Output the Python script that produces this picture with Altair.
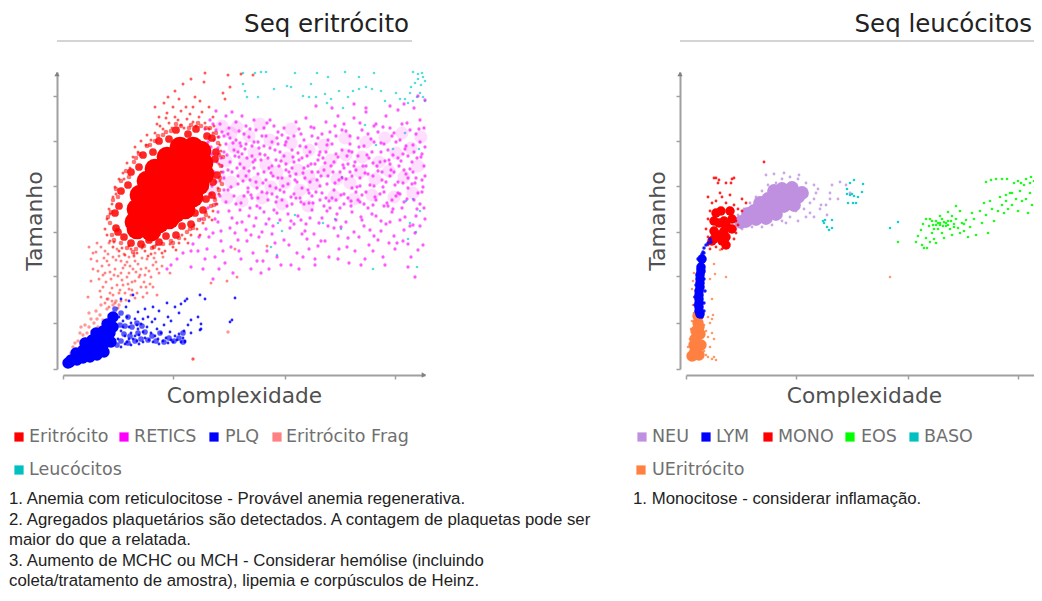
import altair as alt
import pandas as pd

# ---------- values (x = complexity, y = size, in axis units) ----------
RED_CORE = [(117,222),(130,222),(138,218),(104,212),(116,212),(130,210),(140,206),(92,200),(104,198),(116,198),(130,198),(141,195),
 (84,188),(96,186),(108,186),(122,184),(136,184),(77,174),(88,172),(102,172),(116,170),(130,172),(74,160),(84,158),(98,158),(112,156),(122,160),
 (72,147),(84,146),(96,146),(106,150),(74,140),(88,138)]
RED_HAZE = [(61,132),(68,126),(78,125),(86,129),(96,127),(103,133),(113,134),(119,143),(128,145),(132,156),(140,159),(143,170),(149,174),(150,187),(154,194),(152,210),(153,217),(149,231),
 (144,233),(133,240),(125,235),(113,239),(106,230),(96,228),(90,217),(80,214),(76,202),(68,197),(65,184),(58,178),(56,163),(52,156),(53,141),(55,137)]
RED_SOFT = [(58,126),(64,121),(73,120),(81,123),(91,122),(100,125),(108,128),(116,131),(124,137),(130,141),(136,149),(143,154),(148,163),(152,169),(156,179),(157,191),(158,203),(156,214),(155,226),(153,236),(147,241),(138,243),(128,244),(118,243),(108,238),(100,234),(92,228),(84,223),(76,215),(71,207),(63,198),(58,188),(53,180),(50,169),(48,157),(47,146),(49,134),
 (143,241),(135,246),(126,241),(113,245),(103,237),(95,233),(87,224),(73,211),(66,192),(55,172),(45,152),(51,129),(70,117),(89,121),(110,126),(127,140),(141,150),(151,164),(159,185),(160,212)]
RED_FRINGE = [(100,240),(106,246),(112,252),(118,244),(124,250),(130,247),(136,252),(142,246),(146,240),(150,236),(155,232),(92,236),(84,234),(78,228),(72,222),
 (70,212),(64,206),(60,196),(56,190),(52,182),(50,172),(46,160),(44,150),(42,140),(47,128),(50,122),(56,118),(62,114),(68,120),(74,116),(82,118),(88,115),(96,120),
 (102,118),(110,122),(116,126),(122,130),(128,134),(134,140),(140,146),(146,152),(150,158),(154,165),(156,175),(157,188),(156,205),(158,218),(101,266),(105,272),(110,262),
 (112,278),(116,270),(120,285),(123,262),(128,290),(132,272),(137,268),(141,287),(96,252),(92,262),(104,256),(118,258),(130,262),(146,262),(160,276),(162,270),(165,294),(142,296),
 (178,295),(190,294),(167,282),(150,252),(97,243),(88,229),(83,224),(75,217),(67,201),(61,190),(53,175),(49,165),(47,155),(44,134),(51,127),(59,121),(66,123),(71,113),(79,121),(85,113),(93,124),(99,116),
 (107,125),(113,119),(119,134),(125,126),(131,144),(137,134),(143,157),(149,149),(152,171),(121,241),(127,255),(133,243),(139,257),(109,241),(115,249),(94,245),(103,251),(151,243),(157,224),(158,197),(155,181)]
RED_TAIL = [(38,122),(42,118),(46,126),(50,112),(54,120),(58,108),(62,104),(66,112),(72,108),(78,100),(84,110),(90,104),(96,96),(100,112),(92,116),(70,100),(64,92),(58,96),(52,100),(46,104),(42,96),
 (48,90),(54,84),(60,84),(66,80),(72,88),(78,82),(84,76),(90,82),(94,74),(88,92),(82,94),(76,92),(68,74),(62,76),(56,76),(50,74),(44,70),(38,72),(40,82),(36,90),(34,108),(30,116),(26,122),
 (34,126),(66,96),(74,76),(80,72),(52,66),(46,62),(42,66),(30,100),(28,88),(25,72),(58,68),(107,96),(94,100),(148,86),(164,88),(174,92),(130,10),(172,120),(204,123),
 (41,111),(47,97),(53,109),(59,89),(61,115),(67,103),(69,87),(73,97),(79,111),(83,101),(87,85),(93,107),(99,103),(55,93),(49,81),(43,87),(39,103),(45,115),(57,79),(63,69),(69,79),(75,105),(81,87),(35,98),(37,78),
 (33,117),(44,108),(56,113),(64,107),(71,115),(77,94),(86,98),(91,111),(60,101),(51,94),(47,76),(65,85),(72,71),(83,82),(40,94),(49,68),(55,61),(28,110)]
RETICS_HAZE = [(152,214),(163,208),(171,222),(182,206),(191,216),(203,204),(214,197),(224,211),(235,199),(246,193),(156,192),(168,187),(181,194),(193,187),(208,182),(222,186),(237,179),(251,185),(262,198),(274,190),(287,186),
 (297,197),(312,190),(326,198),(341,192),(355,203),(268,209),(283,214),(299,212),(316,207),(333,216),(348,221),(358,232),(339,236),(322,231),(303,227),(282,231),(261,224),(246,219),(228,226),(207,229),(186,233),(168,236),(159,243),
 (271,173),(291,170),(309,174),(331,172),(350,176),(164,171),(179,168),(199,171),(219,165),(245,163),(150,176),(174,242),(197,245),(228,240)]
RETICS = [(142,240),(147,249),(153,258),(157,245),(163,253),(166,241),(169,257),(173,247),(176,238),(179,253),(183,243),(186,232),(191,249),(193,239),(199,233),(201,241),(207,249),(209,227),(215,237),(221,241),(225,231),(233,247),(238,235),(243,251),(251,241),
 (255,231),(263,247),(267,237),(275,253),(279,239),(287,233),(291,251),(299,239),(303,257),(311,243),(315,237),(323,253),(327,241),(335,259),(339,245),(347,239),(351,261),(357,249),(361,241),(253,263),(269,261),(291,265),(303,261),(327,263),(341,265),(362,269),(355,273),
 (151,229),(155,221),(161,233),(163,225),(171,219),(173,229),(179,215),(183,225),(189,213),(191,227),(197,215),(201,223),(205,211),(207,221),(213,209),(215,225),(221,213),(223,205),(229,219),(231,207),(237,223),(239,211),(245,203),(247,217),(253,225),(255,209),(261,199),(263,217),(269,225),(271,207),(277,197),(279,219),(285,205),(287,225),(293,199),(295,213),(301,223),(303,203),(309,217),(311,227),(317,207),(319,197),(325,219),(327,205),(333,227),(335,211),(341,199),(343,223),(349,207),(351,217),(357,227),(361,203),
 (146,205),(151,197),(153,187),(159,203),(161,191),(167,207),(169,197),(175,185),(177,205),(183,193),(185,181),(191,201),(193,187),(199,177),(201,197),(207,183),(209,203),(215,191),(217,179),(223,199),(225,185),(231,175),(233,195),(239,181),(241,201),(247,187),(249,173),(255,197),(257,183),(263,171),(265,193),(271,179),(273,169),(279,191),(281,175),(287,197),(289,181),(295,169),(297,191),(303,177),(305,195),(311,183),(313,169),(319,189),(321,177),(327,193),(329,169),(335,187),(337,175),(343,195),(345,181),(351,169),(353,191),(359,177),(362,193),
 (140,170),(145,161),(148,175),(153,165),(155,157),(161,179),(163,167),(169,151),(171,173),(177,159),(179,147),(185,177),(187,161),(193,151),(195,171),(201,157),(203,145),(209,175),(211,159),(217,149),(219,169),(225,155),(227,141),(233,171),(235,153),(241,165),(243,145),(249,159),(251,135),(257,169),(259,151),(265,143),(267,161),(273,149),(275,133),(281,165),(283,147),(289,157),(291,137),(297,167),(299,149),(305,161),(307,139),(313,153),(315,129),(321,163),(323,145),(329,157),(331,133),(337,149),(339,161),(345,125),(347,143),(353,153),(355,119),(361,161),
 (130,125),(136,132),(138,150),(144,120),(150,136),(152,112),(158,128),(162,106),(168,122),(172,136),(178,110),(184,128),(190,116),(196,132),(204,118),(212,126),(218,104),(226,124),(234,116),(244,130),(252,110),(262,128),(276,120),(292,118),(306,124),(320,112),(332,120),(340,128),(352,136),(360,124),(114,110),(120,116),(108,104),(104,100),(128,102),(140,100),(150,90),(170,96),(188,100),(206,100),(236,100),(252,104),(286,106),(298,104),(322,104),(345,102),(352,92),(198,96),
 (158,211),(161,217),(165,199),(172,213),(175,193),(178,223),(181,201),(184,211),(187,189),(190,207),(195,195),(198,209),(203,189),(206,201),(210,193),(213,181),(216,203),(219,191),(227,193),(229,201),(234,187),(236,209),(242,191),(244,213),(249,197),(252,205),(258,193),(260,211),(264,185),(268,203),(273,215),(276,189),(281,201),(284,213),(289,193),(292,207),(297,183),(300,203),(306,211),(310,193),(314,203),(318,217),(323,187),(326,209),(331,197),(336,203),(340,215),(345,191),(350,197),(354,211),(359,189),
 (149,183),(157,173),(165,179),(173,165),(181,173),(189,171),(197,161),(205,169),(213,167),(221,177),(229,165),(237,171),(245,179),(253,177),(261,163),(269,171),(277,161),(285,171),(293,177),(301,165),(309,155),(317,175),(325,163),(333,173),(341,167),(349,185),(357,165),
 (145,227),(149,215),(153,239),(159,237),(167,231),(175,217),(181,235),(189,223),(195,227),(203,233),(211,243),(217,217),(223,227),(231,233),(241,229),(249,233),(257,217),(265,229),(273,233),(281,245),(289,217),(295,231),(305,235),(313,245),(321,225),(329,233),(337,229),(345,213),(353,235),(359,215),
 (143,140),(155,147),(167,141),(175,129),(183,139),(191,143),(199,137),(209,135),(221,129),(231,145),(239,135),(247,151),(255,123),(271,141),(285,131),(301,143),(311,133),(327,147),(341,139),(357,143),(135,118),(160,118),(200,108),(240,112),(275,110),(310,118)]
RETICS_MORE = [(148,222),(154,207),(156,232),(160,197),(164,214),(168,182),(170,226),(174,201),(176,212),(180,188),(182,220),(186,198),(188,174),(192,209),(194,181),(196,221),(200,186),(202,214),(204,176),(208,196),(212,219),(214,172),(218,208),(220,183),(222,224),(226,197),(228,172),(230,212),(232,189),(235,216),(238,167),(240,196),(243,222),(246,176),(248,205),(250,166),(254,189),(256,214),(259,176),(262,206),(264,224),(266,168),(270,197),(272,186),(275,212),(278,174),(280,204),(283,190),(286,218),(288,168),(291,203),(294,182),(296,222),(299,174),(302,196),(304,214),(307,184),(310,206),(312,172),(315,198),(318,226),(320,182),(322,208),(324,166),(328,199),(330,214),(332,184),(335,176),(338,208),(340,186),(342,220),(344,170),(347,200),(350,224),(352,186),(355,176),(358,212),(360,182),(362,222),
 (150,245),(165,235),(177,226),(187,240),(204,246),(214,231),(219,234),(236,240),(248,242),(259,235),(272,243),(283,238),(297,246),(308,230),(320,242),(331,236),(344,246),(356,240),(152,150),(166,158),(178,166),(186,153),(194,163),(206,150),(214,156),(224,163),(238,149),(246,166),(256,146),(264,158),(274,155),(288,163),(298,152),(310,164),(318,148),(330,160),(342,152),(354,160),(146,132),(158,138),(174,146),(188,134),(210,143),(228,148),(242,138),(258,128),(278,142),(296,132),(318,138),(334,126),(350,144),(362,150),
 (128,118),(142,110),(156,100),(176,118),(194,108),(214,112),(228,104),(246,120),(266,112),(284,122),(302,110),(326,126),(348,112)]
CYAN = [(180,296),(192,296),(198,297),(203,297),(232,296),(254,296),(265,292),(282,297),(296,292),(311,296),(350,297),(355,295),(359,296),(180,285),(182,278),(184,272),(195,272),(211,280),(224,283),(228,282),(248,285),(240,273),(246,272),(253,272),(262,275),(264,266),(268,270),(276,278),(285,272),(290,278),(296,280),(303,282),(309,280),(318,278),(322,268),(333,276),(342,270),(348,282),(337,270),
 (345,266),(350,268),(354,272),(357,276),(360,272),(362,268),(358,284),(362,288),(355,290),(360,292),(352,286),(347,276),(280,261),(302,244),(313,224),(330,220),(342,236),(356,220),(350,170),(343,168),(357,158),(347,146),(353,137),(345,130),(272,150),(219,138),(208,122),(214,114),(215,146),(260,146),(232,154),(279,192),(278,140),(310,100),(354,102)]
PINK = [(6,10),(8,16),(10,22),(13,18),(15,28),(18,25),(20,34),(24,36),(26,42),(29,38),(31,46),(34,50),(37,54),(40,49),(44,60),(46,54),(50,64),(53,68),(56,64),(23,30),(12,26),(35,42),(4,8),(17,36),(22,44),(28,50),(33,58),(18,42),(26,56),(38,64),(45,70),(130,10),(165,37),(90,122)]
PLQ_CORE = [(8,9),(14,9),(20,11),(27,12),(34,14),(41,17),(13,16),(20,19),(27,20),(34,22),(41,25),(22,26),(29,29),(36,30),(43,31),(33,36),(40,38),(47,36),(44,45),(50,42),(50,52),(7,7),(5,6),(48,27)]
PLQ_MID = [(54,24),(58,28),(61,35),(65,26),(67,33),(62,43),(57,44),(69,42),(72,28),(75,36),(78,30),(82,37),(85,29),(74,46),(58,56),(65,52),(89,33),(93,28),(97,36),(101,27),(106,31),(111,28),(116,31),(120,27),(120,36),(79,43),(52,60)]
PLQ = [(50,24),(55,30),(58,38),(60,48),(62,33),(64,27),(66,42),(68,36),(70,30),(72,50),(74,28),(75,40),(76,34),(78,45),(80,27),(80,37),(82,31),(84,42),(85,52),(86,29),(88,36),(89,47),(90,27),(92,33),(94,40),(95,30),(96,25),(98,36),(100,28),(101,44),(103,31),(105,26),(107,37),(108,29),(110,27),(112,33),(114,29),(116,35),(118,27),(120,31),(121,38),(122,28),
 (58,22),(62,25),(66,30),(68,24),(72,33),(76,25),(60,42),(64,52),(56,52),(52,50),(68,46),(74,44),(80,50),(82,60),(90,62),(104,66),(112,62),(118,65),(122,68),(124,70),(116,56),(128,49),(135,52),(138,45),(138,40),(125,44),(105,52),(96,58),(66,68),(58,70),(70,74),(63,62),(75,57),(137,74),(142,70),(172,71),(167,47),(169,49),(122,27),(137,39),(128,36),(108,48),(92,50)]

NEU_CORE = [(60,148),(70,150),(80,151),(90,155),(68,158),(78,160),(88,162),(98,163),(82,170),(92,172),(102,172),(112,172),(96,180),(106,181),(116,176),(88,178),(74,166),(108,164),(55,147),(62,155)]
NEU = [(50,140),(48,148),(56,140),(66,142),(76,142),(86,144),(96,148),(104,152),(110,158),(118,160),(124,166),(128,170),(130,176),(128,184),(120,186),(112,190),(104,192),(96,190),(90,186),(82,184),(76,178),(70,172),(64,166),(58,160),(52,154),(46,156),(80,194),(88,195),(98,196),(113,194),(132,180),(135,164),(134,160),(140,164),(144,176),(146,184),(154,187),(160,184),(152,170),(144,170),(164,176),(141,154),(128,152),(124,156),(120,152),(112,148),(100,146)]
MONO_CORE = [(26,128),(36,128),(28,138),(38,138),(46,140),(28,148),(38,148),(46,150),(35,158),(44,158),(33,134),(40,124),(33,146),(40,132),(40,144),(30,156),(28,130)]
MONO = [(22,124),(24,120),(30,122),(36,120),(42,122),(48,130),(50,136),(52,144),(22,132),(20,140),(22,150),(24,158),(26,166),(22,172),(30,168),(36,172),(40,166),(48,164),(52,160),(56,158),(60,166),(56,170),(34,176),(44,174),(30,191),(33,189),(28,191),(32,186),(46,190),(48,191),(45,186),(40,186),(78,207),(50,148),(42,130),(30,130)]
LYM_CORE = [(14,55),(13,62),(13,70),(13,78),(14,86),(14,94),(15,102),(16,110),(13,58),(13,66),(13,74),(14,82),(14,90),(15,98)]
LYM = [(17,117),(18,121),(16,115),(22,126),(24,130),(20,124),(25,127),(18,116),(12,100),(10,84),(9,72),(18,90),(19,78),(18,66),(17,100),(12,110),(9,64),(18,58),(16,52)]
UERI_CORE = [(8,14),(9,18),(8,24),(9,30),(10,38),(12,46),(12,53),(14,35),(15,24),(6,13),(13,14),(13,42)]
UERI = [(3,12),(2,22),(4,30),(5,40),(6,48),(8,56),(7,64),(8,72),(6,80),(7,88),(8,96),(18,18),(20,14),(22,12),(26,10),(30,9),(24,22),(18,26),(22,32),(20,38),(26,36),(18,44),(24,46),(22,52),(28,30),(17,56),(27,54),(28,12),(26,50),(34,119),(28,105),(29,95),(40,92),(204,92),(26,70),(24,90)]
EOS = [(230,127),(232,133),(236,124),(238,121),(241,121),(240,131),(244,127),(235,139),(237,145),(240,150),(243,143),(246,136),(248,130),(250,126),(252,140),(254,146),(256,136),(258,131),(260,143),(262,148),(264,140),(266,134),(268,145),(270,150),(272,141),(274,136),(276,146),(278,138),(246,148),(250,144),(254,153),(258,147),(262,157),(266,153),(270,163),(274,158),(278,145),(280,149),(282,132),(284,142),(286,156),(288,150),(290,134),(294,158),(296,146),(298,166),(300,154),(302,136),(304,168),(306,160),(308,148),(312,158),(314,172),(316,164),(318,156),(320,174),(322,160),(324,176),(326,164),(328,186),(330,170),(332,158),(334,178),(336,168),(338,184),(340,170),(342,156),(344,176),(346,164),(348,188),(350,172),(352,182),(354,168),(356,178),(300,187),(305,189),(310,190),(316,190),(321,190),(335,186),(340,190),(345,192),(332,188),(344,186),(349,182),(326,176),(320,168),(254,144),(257,143),(260,146),(262,144),(250,148),(248,140),(244,150),(256,150),(252,146),(247,144),(265,148),(268,142),(212,127)]
BASO = [(161,180),(164,186),(168,189),(161,175),(164,174),(166,175),(168,173),(172,172),(176,177),(177,185),(162,166),(167,166),(170,166),(137,148),(139,149),(146,149),(138,146),(141,142),(143,139),(146,141),(204,141),(212,147)]

LEFT_LEGEND = [("Eritrócito",19,29,437,"#ff0000"),("RETICS",124,134,437,"#ff00ff"),("PLQ",214,225,437,"#0000ff"),("Eritrócito Frag",277,286,437,"#ff8080"),("Leucócitos",19,29,470,"#00c0c0")]
RIGHT_LEGEND = [("NEU",642,652,437,"#c090e0"),("LYM",706,716,437,"#0000ff"),("MONO",768,778,437,"#ff0000"),("EOS",850,861,437,"#00ff00"),("BASO",914,924,437,"#00c0c0"),("UEritrócito",641,652,470,"#ff8040")]
LEFT_NOTES = [("1. Anemia com reticulocitose - Provável anemia regenerativa.",499),
 ("2. Agregados plaquetários são detectados. A contagem de plaquetas pode ser",520),
 ("maior do que a relatada.",540),
 ("3. Aumento de MCHC ou MCH - Considerar hemólise (incluindo",561),
 ("coleta/tratamento de amostra), lipemia e corpúsculos de Heinz.",581)]
RIGHT_NOTES = [("1. Monocitose - considerar inflamação.",499)]

GREY = "#a0a0a0"
PAGE = 8            # page margin
TOP, BOTTOM = 72, 369
VIEW_W, VIEW_H = 1026, 581
ONE = alt.Data(values=[{}])


def scatter(ox, oxend, width, ticks, axis_x, spec):
    x = alt.X("x:Q", scale=alt.Scale(domain=[0, width], range=[ox - PAGE, oxend - PAGE], nice=False, zero=False),
              axis=alt.Axis(title="Complexidade", orient="bottom", values=ticks, labels=False, grid=False,
                            offset=375 - PAGE - VIEW_H,
                            domainColor=GREY, domainWidth=2, tickColor=GREY, tickSize=4, tickWidth=1.5,
                            titleFont="DejaVu Sans", titleFontSize=21.7, titleFontWeight="normal", titleColor="#505050", titlePadding=6))
    y = alt.Y("y:Q", scale=alt.Scale(domain=[0, BOTTOM - TOP], range=[BOTTOM - PAGE, TOP - PAGE], nice=False, zero=False),
              axis=alt.Axis(title="Tamanho", orient="left", values=[0, 46, 93, 137, 183, 228, 273], labels=False, grid=False,
                            offset=PAGE - axis_x,
                            domainColor=GREY, domainWidth=2, tickColor=GREY, tickSize=4, tickWidth=1.5,
                            titleFont="DejaVu Sans", titleFontSize=22, titleFontWeight="normal", titleColor="#505050", titlePadding=6))
    return alt.layer(*[alt.Chart(pd.DataFrame(arr, columns=["x", "y"])).mark_circle(size=size, color=color, opacity=op, clip=True).encode(x=x, y=y)
                       for arr, color, size, op in spec])


def txt(label, px, py, size, color, font, align="left"):
    return alt.Chart(ONE).mark_text(text=label, font=font, fontSize=size, color=color, align=align, baseline="middle").encode(
        x=alt.value(px - PAGE), y=alt.value(py - PAGE))


def furniture(title, title_right, rule_from, rule_to, legend, notes, note_x, axis_x, axis_end):
    out = [txt(title, title_right, 25, 24.5, "#222222", "DejaVu Sans", "right"),
           alt.Chart(ONE).mark_rule(color="#d4d4d4", strokeWidth=2).encode(
               x=alt.value(rule_from - PAGE), x2=alt.value(rule_to - PAGE), y=alt.value(41 - PAGE))]
    for label, sx, lx, ly, color in legend:
        out.append(alt.Chart(ONE).mark_square(size=85, color=color, opacity=1).encode(x=alt.value(sx - PAGE), y=alt.value(ly - PAGE)))
        out.append(txt(label, lx, ly, 17.5, "#707070", "DejaVu Sans"))
    for label, ly in notes:
        out.append(txt(label, note_x, ly, 16.8, "#222222", "Liberation Sans"))
    out.append(alt.Chart(ONE).mark_point(shape="triangle-up", filled=True, size=28, color="#808080", opacity=1).encode(
        x=alt.value(axis_x - PAGE), y=alt.value(TOP + 2 - PAGE)))
    if axis_end:
        out.append(alt.Chart(ONE).mark_point(shape="triangle-right", filled=True, size=28, color="#808080", opacity=1).encode(
            x=alt.value(axis_end - PAGE), y=alt.value(375 - PAGE)))
    return out


left = scatter(63, 425, 362, [0, 110, 222, 332], 57, [
    (CYAN, "#20d0d0", 7, 0.75),
    (RETICS_HAZE, "#ff00ff", 170, 0.13),
    (RETICS, "#ff00ff", 11, 0.65),
    (RETICS_MORE, "#ff00ff", 11, 0.65),
    (PINK, "#ff8080", 12, 0.8),
    (RED_FRINGE, "#ff0000", 9, 0.65),
    (RED_SOFT, "#ff0000", 22, 0.55),
    (RED_TAIL, "#ff2020", 9, 0.55),
    (RED_HAZE, "#ff0000", 60, 0.85),
    (RED_CORE, "#ff0000", 430, 1),
    (PLQ, "#0000ff", 8, 0.85),
    (PLQ_MID, "#0000ff", 32, 0.65),
    (PLQ_CORE, "#0000ff", 130, 1),
])

right = scatter(686, 1042, 356, [0, 110, 222, 332], 680, [
    (UERI, "#ff8040", 7, 0.8),
    (UERI_CORE, "#ff8040", 130, 1),
    (NEU, "#c090e0", 8, 0.8),
    (NEU_CORE, "#c090e0", 190, 1),
    (MONO, "#ff0000", 8, 0.85),
    (MONO_CORE, "#ff0000", 90, 1),
    (LYM, "#0000ff", 12, 0.9),
    (LYM_CORE, "#0000ff", 90, 1),
    (EOS, "#00ff00", 7, 0.9),
    (BASO, "#00c8c8", 7, 0.9),
])

extras = alt.layer(
    *furniture("Seq eritrócito", 409, 57, 412, LEFT_LEGEND, LEFT_NOTES, 9, 57, 424),
    *furniture("Seq leucócitos", 1032, 680, 1034, RIGHT_LEGEND, RIGHT_NOTES, 633, 680, None),
)

chart = alt.layer(left, right, extras).resolve_scale(x="independent", y="independent").resolve_axis(x="independent", y="independent").properties(
    width=VIEW_W, height=VIEW_H, padding=0, autosize=alt.AutoSizeParams(type="none")).configure_view(stroke=None)
chart.save("out.html", embed_options={"renderer": "svg", "actions": False})
